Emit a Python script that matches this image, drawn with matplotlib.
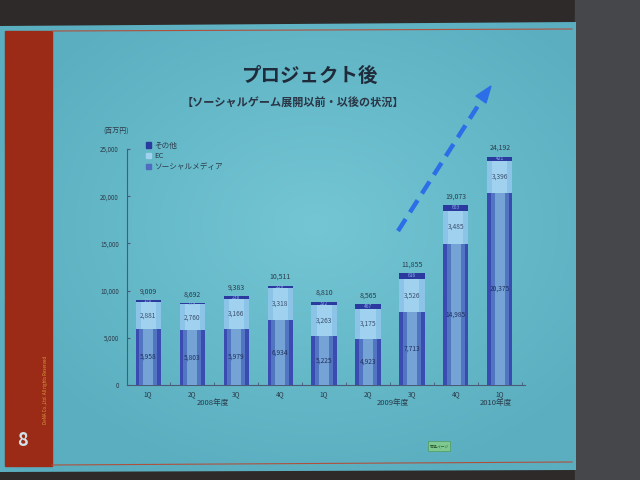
import matplotlib
matplotlib.use("Agg")
import matplotlib.pyplot as plt
from matplotlib.patches import Rectangle, Polygon, Patch
import numpy as np

plt.rcParams['font.family'] = ['Noto Sans CJK JP', 'DejaVu Sans']

# ---- data ----
quarters = ['1Q', '2Q', '3Q', '4Q', '1Q', '2Q', '3Q', '4Q', '1Q']
years = ['2008年度', '2009年度', '2010年度']
social = [5958, 5803, 5979, 6934, 5225, 4923, 7713, 14985, 20375]
ec = [2881, 2760, 3166, 3318, 3263, 3175, 3526, 3485, 3396]
other = [170, 129, 238, 259, 322, 467, 616, 603, 421]
totals = [9009, 8692, 9383, 10511, 8810, 8565, 11855, 19073, 24192]
yticks = [0, 5000, 10000, 15000, 20000, 25000]
series_names = ['その他', 'EC', 'ソーシャルメディア']

W, H = 640, 480
fig = plt.figure(figsize=(6.4, 4.8), dpi=100)
fig.patch.set_facecolor('#2e2a29')

# ---- background (slide) ----
bg = fig.add_axes([0, 0, 1, 1])
bg.set_xlim(0, W); bg.set_ylim(H, 0); bg.axis('off')
bg.add_patch(Rectangle((575, 0), 65, 480, color='#45474a', zorder=0))
# slide with soft brighter centre
gx, gy = np.meshgrid(np.linspace(0, 1, 64), np.linspace(0, 1, 48))
r = np.sqrt(((gx - 0.55) / 0.6) ** 2 + ((gy - 0.45) / 0.6) ** 2)
t = np.clip(1 - r, 0, 1)[..., None]
c_edge = np.array([0x5a, 0xae, 0xbf]) / 255
c_mid = np.array([0x74, 0xc6, 0xd4]) / 255
img = c_edge + (c_mid - c_edge) * t
slide = Polygon([(0, 26), (576, 22), (576, 470), (0, 472)], closed=True,
                facecolor='none', edgecolor='none')
bg.add_patch(slide)
im = bg.imshow(img, extent=(0, 576, 472, 22), aspect='auto', zorder=1,
               interpolation='bilinear')
im.set_clip_path(slide)
bg.set_xlim(0, W); bg.set_ylim(H, 0)
bg.add_patch(Rectangle((5, 31), 47, 435, color='#9b2b17', zorder=2))
bg.plot([52, 572], [31, 29], color='#b0503c', lw=0.8, zorder=2)
bg.plot([52, 572], [465, 462], color='#b0503c', lw=0.8, zorder=2)

# ---- chart ----
x0, x1 = 127, 525
y0, y1 = 385, 149
ax = fig.add_axes([x0 / W, 1 - y0 / H, (x1 - x0) / W, (y0 - y1) / H])
ax.set_facecolor('none')
x = np.arange(len(quarters))
ax.set_xlim(-0.48, 8.57)
ax.set_ylim(0, 25000)

bw = 0.57
soc = np.array(social); e = np.array(ec); o = np.array(other)
# social media: cylinder-like shading
ax.bar(x, soc, width=bw, color='#3a4cb2', zorder=3)
ax.bar(x, soc, width=bw * 0.72, color='#5275c2', zorder=3.1)
ax.bar(x, soc, width=bw * 0.38, color='#76a3d6', zorder=3.2)
# EC
ax.bar(x, e, bottom=soc, width=bw, color='#8cc4e8', zorder=3)
ax.bar(x, e, bottom=soc, width=bw * 0.6, color='#a0d1ee', zorder=3.1)
# other
ax.bar(x, o, bottom=soc + e, width=bw, color='#2a3a9f', zorder=3)

txtc = '#2c3a4a'
for i in range(len(x)):
    ax.text(x[i], soc[i] / 2, f'{social[i]:,}', ha='center', va='center',
            fontsize=4.8, color='#203060', zorder=5)
    ax.text(x[i], soc[i] + e[i] / 2, f'{ec[i]:,}', ha='center', va='center',
            fontsize=4.8, color='#3a5070', zorder=5)
    ax.text(x[i], soc[i] + e[i] + o[i] / 2, f'{other[i]:,}', ha='center',
            va='center', fontsize=3.5, color='#8fb0e8', zorder=5)
    ax.text(x[i], totals[i] + 500, f'{totals[i]:,}', ha='center', va='bottom',
            fontsize=5, color=txtc, zorder=5)

for s in ['top', 'right']:
    ax.spines[s].set_visible(False)
ax.spines['left'].set_color('#4a5a78')
ax.spines['bottom'].set_color('#4a5a78')
ax.spines['left'].set_linewidth(0.8)
ax.spines['bottom'].set_linewidth(0.8)
ax.set_yticks(yticks)
ax.set_yticklabels([f'{v:,}' for v in yticks], fontsize=4.5, color=txtc)
ax.set_xticks(x)
ax.set_xticklabels(quarters, fontsize=4.8, color=txtc)
ax.set_xticks(np.arange(-0.5, 8.6, 1)[1:], minor=True)
ax.tick_params(axis='x', which='major', length=0, pad=4)
ax.tick_params(axis='x', which='minor', length=2, color='#4a5a78', direction='in')
ax.tick_params(axis='y', length=2, color='#4a5a78', direction='in', pad=6)

handles = [Patch(color='#2a3a9f'), Patch(color='#a0d1ee'), Patch(color='#4f6cc0')]
leg = ax.legend(handles, series_names, loc='upper left',
                bbox_to_anchor=(0.03, 1.06), frameon=False, fontsize=5.5,
                handlelength=0.7, handleheight=0.7, handletextpad=0.4,
                labelspacing=0.35, labelcolor=txtc)

# ---- overlay texts ----
ov = fig.add_axes([0, 0, 1, 1])
ov.set_facecolor('none')
ov.set_xlim(0, W); ov.set_ylim(H, 0); ov.axis('off')

ov.text(310, 76, 'プロジェクト後', ha='center', va='center', fontsize=14,
        fontweight='bold', color='#1f2a3a')
ov.text(293, 103, '【ソーシャルゲーム展開以前・以後の状況】', ha='center',
        va='center', fontsize=8, fontweight='bold', color='#2a3545')
ov.text(116, 131, '(百万円)', ha='center', va='center', fontsize=5, color=txtc)

ov.text(213, 403, years[0], ha='center', va='center', fontsize=5.5, color=txtc)
ov.text(393, 403, years[1], ha='center', va='center', fontsize=5.5, color=txtc)
ov.text(496, 403, years[2], ha='center', va='center', fontsize=5.5, color=txtc)

# dashed growth arrow
ov.plot([398, 481], [231, 101], color='#2c6ee8', lw=3.2, linestyle=(0, (3.2, 1.8)),
        solid_capstyle='butt')
ov.add_patch(Polygon([(491, 86), (476, 96), (486, 103)], closed=True,
                     color='#2c6ee8'))

ov.text(22, 440, '8', ha='center', va='center', fontsize=13, fontweight='bold',
        color='#cfe3e8')
ov.text(46, 390, 'DeNA Co.,Ltd. All rights Reserved', rotation=90, ha='center',
        va='center', fontsize=3.2, color='#d8a040')

ov.add_patch(Rectangle((428, 441), 22, 10, color='#7fc890', ec='#4f9a60', lw=0.5))
ov.text(439, 446, '関連ページ', ha='center', va='center', fontsize=2.8,
        color='#2a5a30')

fig.savefig('out.png', dpi=100, facecolor=fig.get_facecolor())
